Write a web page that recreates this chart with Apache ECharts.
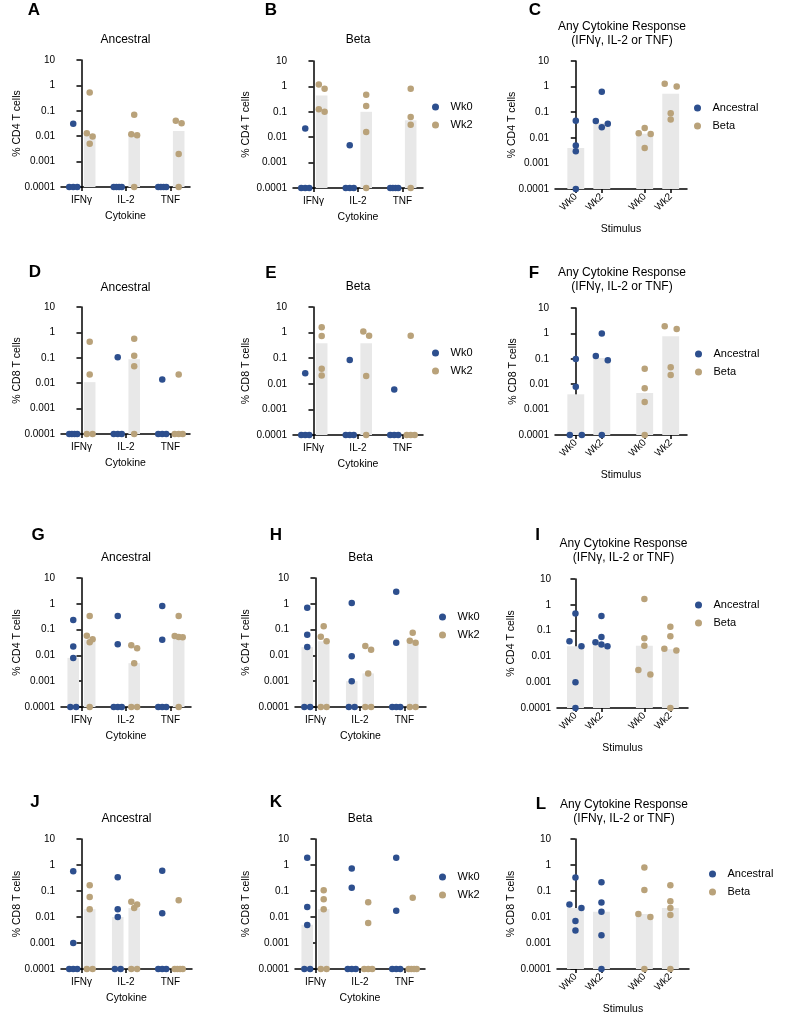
<!DOCTYPE html>
<html>
<head>
<meta charset="utf-8">
<title>T cell cytokine responses</title>
<script src="https://cdn.jsdelivr.net/npm/echarts@6/dist/echarts.min.js"></script>
<style>
  html, body { margin: 0; padding: 0; background: #fff; }
  #chart { width: 787px; height: 1024px; }
</style>
</head>
<body>
<div id="chart"></div>
<script>
// categories / tick labels
const cytokines = ['IFNγ', 'IL-2', 'TNF'];
const weeks = ['Wk0', 'Wk2'];
const variants = ['Ancestral', 'Beta'];
const yTicks = [0.0001, 0.001, 0.01, 0.1, 1, 10];
const yTickLabels = ['0.0001', '0.001', '0.01', '0.1', '1', '10'];

// cytokine panels: one list per cytokine (IFNγ, IL-2, TNF), 0 = no response
// A - CD4, Ancestral
const aWk0 = [[0.031, 0, 0, 0], [0, 0, 0, 0], [0, 0, 0, 0]];
const aWk2 = [[0.53, 0.013, 0.0098, 0.005], [0.07, 0.012, 0.011, 0], [0.041, 0.032, 0.002, 0]];
const aMed0 = [0, 0, 0];
const aMed2 = [0.012, 0.012, 0.016];
// B - CD4, Beta
const bWk0 = [[0.022, 0, 0, 0], [0.0048, 0, 0, 0], [0, 0, 0, 0]];
const bWk2 = [[1.18, 0.8, 0.125, 0.1], [0.47, 0.17, 0.016, 0], [0.8, 0.062, 0.031, 0]];
const bMed0 = [0, 0, 0];
const bMed2 = [0.44, 0.1, 0.046];
// D - CD8, Ancestral
const dWk0 = [[0, 0, 0, 0], [0.105, 0, 0, 0], [0.014, 0, 0, 0]];
const dWk2 = [[0.43, 0.022, 0, 0], [0.56, 0.12, 0.047, 0], [0.022, 0, 0, 0]];
const dMed0 = [0, 0, 0];
const dMed2 = [0.011, 0.088, 0];
// E - CD8, Beta
const eWk0 = [[0.026, 0, 0, 0], [0.085, 0, 0, 0], [0.006, 0, 0, 0]];
const eWk2 = [[1.6, 0.74, 0.039, 0.021], [1.1, 0.75, 0.02, 0], [0.75, 0, 0, 0]];
const eMed0 = [0, 0, 0];
const eMed2 = [0.38, 0.38, 0];
// G - CD4, Ancestral (second cohort)
const gWk0 = [[0.235, 0.022, 0.008, 0, 0], [0.34, 0.027, 0, 0, 0], [0.82, 0.04, 0, 0, 0]];
const gWk2 = [[0.34, 0.058, 0.042, 0.032, 0], [0.025, 0.019, 0.005, 0, 0], [0.34, 0.056, 0.052, 0.05, 0]];
const gMed0 = [0.008, 0, 0];
const gMed2 = [0.04, 0.005, 0.052];
// H - CD4, Beta
const hWk0 = [[0.71, 0.063, 0.021, 0, 0], [1.07, 0.0092, 0.001, 0, 0], [2.95, 0.031, 0, 0, 0]];
const hWk2 = [[0.134, 0.053, 0.035, 0, 0], [0.023, 0.0167, 0.002, 0, 0], [0.076, 0.037, 0.031, 0, 0]];
const hMed0 = [0.021, 0.001, 0];
const hMed2 = [0.035, 0.002, 0.031];
// J - CD8, Ancestral
const jWk0 = [[0.57, 0.001, 0, 0, 0], [0.34, 0.02, 0.01, 0, 0], [0.6, 0.014, 0, 0, 0]];
const jWk2 = [[0.165, 0.059, 0.02, 0, 0], [0.039, 0.03, 0.022, 0, 0], [0.044, 0, 0, 0, 0]];
const jMed0 = [0, 0.01, 0];
const jMed2 = [0.02, 0.022, 0];
// K - CD8, Beta
const kWk0 = [[1.9, 0.024, 0.0049, 0, 0], [0.74, 0.134, 0, 0, 0], [1.9, 0.0175, 0, 0, 0]];
const kWk2 = [[0.107, 0.048, 0.02, 0, 0], [0.037, 0.0059, 0, 0, 0], [0.055, 0, 0, 0, 0]];
const kMed0 = [0.005, 0, 0];
const kMed2 = [0.02, 0, 0];

// any-cytokine panels: Ancestral Wk0, Ancestral Wk2, Beta Wk0, Beta Wk2
const cPts = [[0.046, 0.005, 0.003, 0], [0.63, 0.045, 0.035, 0.026], [0.024, 0.015, 0.014, 0.004], [1.3, 1.0, 0.09, 0.052]];
const cMed = [0.004, 0.038, 0.0145, 0.53];
const fPts = [[0.098, 0.008, 0, 0], [1.0, 0.13, 0.087, 0], [0.041, 0.007, 0.002, 0], [1.9, 1.5, 0.047, 0.023]];
const fMed = [0.004, 0.108, 0.0045, 0.77];
const iPts = [[0.457, 0.039, 0.025, 0.001, 0], [0.37, 0.057, 0.035, 0.029, 0.025], [1.69, 0.051, 0.026, 0.003, 0.002], [0.14, 0.06, 0.02, 0.017, 0]];
const iMed = [0.025, 0.03, 0.026, 0.019];
const lPts = [[0.33, 0.03, 0.022, 0.007, 0.003], [0.215, 0.036, 0.016, 0.002, 0], [0.81, 0.11, 0.013, 0.01, 0], [0.166, 0.04, 0.022, 0.012, 0]];
const lMed = [0.022, 0.016, 0.013, 0.022];

const Y_MIN = 0.0001, Y_MAX = 10;
const BLUE = '#2d4f8e', TAN = '#b9a27a', BAR = '#e8e8e8', INK = '#000';
const FONT = '"Liberation Sans", Arial, Helvetica, sans-serif';
const CYTO_PX = 44.5;   // px between cytokine groups
const STIM_PX = 26;     // px between Wk0/Wk2 columns
const stimPos = [0, 1, 2.65, 3.65];

const panels = [
    { kind: 'cyto', letter: 'A', mark: [34, 10], title: 'Ancestral', titleY: 40, yName: '% CD4 T cells', yGap: 38.5, box: [61, 60, 129, 127], wk0: aWk0, wk2: aWk2, med0: aMed0, med2: aMed2 },
    { kind: 'cyto', letter: 'B', mark: [271, 10], title: 'Beta', titleY: 40, yName: '% CD4 T cells', yGap: 41, box: [293, 61, 130, 127], wk0: bWk0, wk2: bWk2, med0: bMed0, med2: bMed2, legend: [442, 107] },
    { kind: 'stim', letter: 'C', mark: [535, 10], titleY: 33.5, yName: '% CD4 T cells', yGap: 37.5, box: [555, 61, 132, 128], xMin: -0.8, pts: cPts, med: cMed, legend: [704, 108] },
    { kind: 'cyto', letter: 'D', mark: [35, 272], title: 'Ancestral', titleY: 288, yName: '% CD8 T cells', yGap: 38.5, box: [61, 307, 129, 127], wk0: dWk0, wk2: dWk2, med0: dMed0, med2: dMed2 },
    { kind: 'cyto', letter: 'E', mark: [271, 273], title: 'Beta', titleY: 287, yName: '% CD8 T cells', yGap: 41, box: [293, 307, 130, 128], wk0: eWk0, wk2: eWk2, med0: eMed0, med2: eMed2, legend: [442, 353] },
    { kind: 'stim', letter: 'F', mark: [534, 273], titleY: 280, yName: '% CD8 T cells', yGap: 36.5, box: [555, 308, 132, 127], xMin: -0.8, pts: fPts, med: fMed, legend: [705, 354] },
    { kind: 'cyto', letter: 'G', mark: [38, 535], title: 'Ancestral', titleY: 558, yName: '% CD4 T cells', yGap: 38.5, box: [61, 578, 130, 129], wk0: gWk0, wk2: gWk2, med0: gMed0, med2: gMed2 },
    { kind: 'cyto', letter: 'H', mark: [276, 535], title: 'Beta', titleY: 558, yName: '% CD4 T cells', yGap: 43, box: [295, 578, 131, 129], wk0: hWk0, wk2: hWk2, med0: hMed0, med2: hMed2, legend: [449, 617] },
    { kind: 'stim', letter: 'I', mark: [537.5, 535], titleY: 551, yName: '% CD4 T cells', yGap: 40, box: [557, 579, 131, 129], xMin: -0.71, pts: iPts, med: iMed, legend: [705, 605] },
    { kind: 'cyto', letter: 'J', mark: [35, 802], title: 'Ancestral', titleY: 819, yName: '% CD8 T cells', yGap: 38.5, box: [61, 839, 131, 130], wk0: jWk0, wk2: jWk2, med0: jMed0, med2: jMed2 },
    { kind: 'cyto', letter: 'K', mark: [276, 802], title: 'Beta', titleY: 819, yName: '% CD8 T cells', yGap: 43, box: [295, 839, 130, 130], wk0: kWk0, wk2: kWk2, med0: kMed0, med2: kMed2, legend: [449, 877] },
    { kind: 'stim', letter: 'L', mark: [541, 804], titleY: 812, yName: '% CD8 T cells', yGap: 40, box: [557, 839, 132, 130], xMin: -0.71, pts: lPts, med: lMed, legend: [719, 874] }
];

const grids = [], xAxes = [], yAxes = [], series = [], legends = [], texts = [];

// Prism-like column scatter: points that sit at about the same height share a row, centred on the column
function beeswarm(values, pxPerDecade, step, maxSpan) {
    const order = values.map((v, i) => i).sort((a, b) => values[b] - values[a]);
    const yPx = v => Math.log10(Math.max(v, Y_MIN)) * pxPerDecade;
    const offsets = values.map(() => 0);
    let row = [];
    const flush = () => {
        const k = row.length;
        const s = k > 1 ? Math.min(step, maxSpan / (k - 1)) : 0;
        row.forEach((j, n) => { offsets[j] = (n - (k - 1) / 2) * s; });
        row = [];
    };
    order.forEach(j => {
        if (row.length && Math.abs(yPx(values[row[0]]) - yPx(values[j])) >= 5) flush();
        row.push(j);
    });
    flush();
    return offsets;
}

function addBars(i, items, halfWidth) {
    series.push({
        type: 'custom',
        xAxisIndex: i,
        yAxisIndex: i,
        silent: true,
        z: 1,
        encode: { x: 0, y: 1 },
        data: items.filter(d => d[1] > 0),
        renderItem(params, api) {
            const x = api.value(0), v = api.value(1);
            const tl = api.coord([x - halfWidth, v]);
            const br = api.coord([x + halfWidth, Y_MIN]);
            return {
                type: 'rect',
                shape: { x: tl[0], y: tl[1], width: br[0] - tl[0], height: br[1] - tl[1] },
                style: { fill: BAR }
            };
        }
    });
}

function addPoints(i, name, color, groups, centers, pxPerUnit, pxPerDecade, step, maxSpan) {
    const data = [];
    groups.forEach((vals, g) => {
        const offs = beeswarm(vals, pxPerDecade, step, maxSpan);
        vals.forEach((v, k) => data.push([centers[g] + offs[k] / pxPerUnit, Math.max(v, Y_MIN)]));
    });
    series.push({
        type: 'scatter',
        name: name,
        xAxisIndex: i,
        yAxisIndex: i,
        data: data,
        symbol: 'circle',
        symbolSize: 6.5,
        itemStyle: { color: color, opacity: 1 },
        clip: false,
        z: 3
    });
}

const axisLine = { show: true, lineStyle: { color: INK, width: 1.5 } };
const tickStyle = { color: INK, width: 1.5 };

panels.forEach((p, i) => {
    const [left, top, width, height] = p.box;
    const pxPerDecade = height / 5;
    grids.push({ left: left, top: top, width: width, height: height, containLabel: false });

    yAxes.push({
        gridIndex: i,
        type: 'log',
        logBase: 10,
        min: Y_MIN,
        max: Y_MAX,
        axisLine: axisLine,
        axisTick: { show: true, length: 5, customValues: yTicks, lineStyle: tickStyle },
        minorTick: { show: false },
        splitLine: { show: false },
        axisLabel: {
            customValues: yTicks,
            margin: 6,
            fontSize: 10,
            color: INK,
            fontFamily: FONT,
            formatter: v => yTickLabels[Math.round(Math.log10(v)) + 4]
        },
        name: p.yName,
        nameLocation: 'middle',
        nameGap: p.yGap,
        nameMoveOverlap: false,
        nameTextStyle: { fontSize: 10.5, color: INK, fontFamily: FONT }
    });

    if (p.kind === 'cyto') {
        const xMin = -0.46;
        const xMax = xMin + width / CYTO_PX;
        xAxes.push({
            gridIndex: i,
            type: 'value',
            min: xMin,
            max: xMax,
            axisLine: axisLine,
            axisTick: { show: true, length: 4, customValues: [0, 1, 2], lineStyle: tickStyle },
            splitLine: { show: false },
            axisLabel: {
                customValues: [0, 1, 2],
                margin: 8,
                fontSize: 10,
                color: INK,
                fontFamily: FONT,
                formatter: v => cytokines[Math.round(v)]
            },
            name: 'Cytokine',
            nameLocation: 'middle',
            nameGap: 24,
            nameMoveOverlap: false,
            nameTextStyle: { fontSize: 10.5, color: INK, fontFamily: FONT }
        });
        const c0 = cytokines.map((c, g) => g - 0.185);
        const c2 = cytokines.map((c, g) => g + 0.185);
        addBars(i, c0.map((x, g) => [x, p.med0[g]]).concat(c2.map((x, g) => [x, p.med2[g]])), 0.13);
        addPoints(i, weeks[0], BLUE, p.wk0, c0, CYTO_PX, pxPerDecade, 5.8, 8);
        addPoints(i, weeks[1], TAN, p.wk2, c2, CYTO_PX, pxPerDecade, 5.8, 8);
        texts.push({ x: left + width / 2, y: p.titleY, text: p.title });
        if (p.legend) legends.push({ names: weeks, at: p.legend });
    } else {
        const xMin = p.xMin;
        const xMax = xMin + width / STIM_PX;
        xAxes.push({
            gridIndex: i,
            type: 'value',
            min: xMin,
            max: xMax,
            axisLine: axisLine,
            axisTick: { show: true, length: 4, customValues: stimPos, lineStyle: tickStyle },
            splitLine: { show: false },
            axisLabel: {
                customValues: stimPos,
                rotate: 45,
                margin: 6,
                fontSize: 10,
                color: INK,
                fontFamily: FONT,
                formatter: v => weeks[stimPos.findIndex(s => Math.abs(s - v) < 1e-6) % 2]
            },
            name: 'Stimulus',
            nameLocation: 'middle',
            nameGap: 35,
            nameMoveOverlap: false,
            nameTextStyle: { fontSize: 10.5, color: INK, fontFamily: FONT }
        });
        addBars(i, stimPos.map((x, g) => [x, p.med[g]]), 0.325);
        addPoints(i, variants[0], BLUE, p.pts.slice(0, 2), stimPos.slice(0, 2), STIM_PX, pxPerDecade, 12, 12);
        addPoints(i, variants[1], TAN, p.pts.slice(2), stimPos.slice(2), STIM_PX, pxPerDecade, 12, 12);
        texts.push({ x: left + width / 2 + 1, y: p.titleY, text: 'Any Cytokine Response\n(IFNγ, IL-2 or TNF)' });
        legends.push({ names: variants, at: p.legend });
    }
    texts.push({ x: p.mark[0], y: p.mark[1], text: p.letter, bold: true });
});

const chart = echarts.init(document.getElementById('chart'), null, { renderer: 'canvas' });
chart.setOption({
    backgroundColor: '#fff',
    animation: false,
    textStyle: { fontFamily: FONT },
    grid: grids,
    xAxis: xAxes,
    yAxis: yAxes,
    series: series,
    legend: legends.map(l => ({
        data: l.names,
        orient: 'vertical',
        left: l.at[0] - 10,
        top: l.at[1] - 5.5,
        padding: 0,
        itemWidth: 20,
        itemHeight: 7,
        itemGap: 7,
        icon: 'circle',
        selectedMode: false,
        textStyle: { fontSize: 11, lineHeight: 11, color: INK, fontFamily: FONT }
    })),
    graphic: texts.map(t => ({
        type: 'text',
        x: t.x,
        y: t.y,
        silent: true,
        style: {
            text: t.text,
            fill: INK,
            font: (t.bold ? 'bold 17px ' : '12px ') + FONT,
            lineHeight: 14,
            align: 'center',
            verticalAlign: 'middle',
            textAlign: 'center',
            textVerticalAlign: 'middle'
        }
    }))
});
</script>
</body>
</html>
